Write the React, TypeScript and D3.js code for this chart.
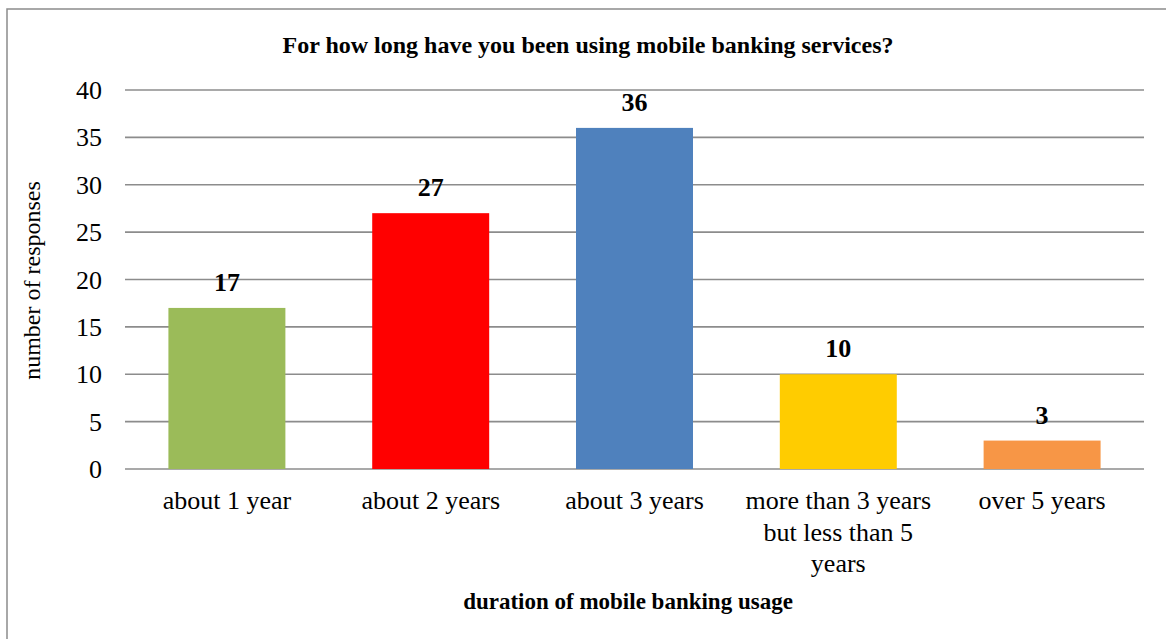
import React from "react";
import * as d3 from "d3";

const categories: string[][] = [
  ["about 1 year"],
  ["about 2 years"],
  ["about 3 years"],
  ["more than 3 years", "but less than 5", "years"],
  ["over 5 years"],
];
const values: number[] = [17, 27, 36, 10, 3];
const colors: string[] = ["#9BBB59", "#FF0000", "#4F81BD", "#FFCC00", "#F79646"];
const yTicks: number[] = [0, 5, 10, 15, 20, 25, 30, 35, 40];
const title = "For how long have you been using mobile banking services?";
const xTitle = "duration of mobile banking usage";
const yTitle = "number of responses";

export default function App() {
  const W = 1166;
  const H = 639;
  const left = 125;
  const right = 1144;
  const top = 90;
  const bottom = 469;
  const font = "'Liberation Serif', 'Times New Roman', serif";

  const x = d3
    .scaleBand<number>()
    .domain(values.map((_, i) => i))
    .range([left, right])
    .paddingInner(0.426)
    .paddingOuter(0.213);
  const y = d3.scaleLinear().domain([0, 40]).range([bottom, top]);

  return (
    <svg
      width={W}
      height={H}
      style={{ position: "absolute", left: 0, top: 0, display: "block" }}
    >
      <rect x={0} y={0} width={W} height={H} fill="#fff" />
      <rect
        x={7}
        y={9}
        width={W + 20}
        height={H + 20}
        fill="none"
        stroke="#8c8c8c"
        strokeWidth={1.5}
      />
      <text
        x={588}
        y={53}
        textAnchor="middle"
        fontFamily={font}
        fontWeight="bold"
        fontSize={24}
        fill="#000"
      >
        {title}
      </text>
      {yTicks.map((t) => (
        <g key={t}>
          <line
            x1={left}
            x2={right}
            y1={y(t)}
            y2={y(t)}
            stroke="#8c8c8c"
            strokeWidth={1.6}
          />
          <text
            x={102}
            y={y(t)}
            dy="0.35em"
            textAnchor="end"
            fontFamily={font}
            fontSize={26}
            fill="#000"
          >
            {t}
          </text>
        </g>
      ))}
      {values.map((v, i) => (
        <g key={i}>
          <rect
            x={x(i)!}
            y={y(v)}
            width={x.bandwidth()}
            height={y(0) - y(v)}
            fill={colors[i]}
          />
          <text
            x={x(i)! + x.bandwidth() / 2}
            y={y(v) - 17}
            textAnchor="middle"
            fontFamily={font}
            fontWeight="bold"
            fontSize={26}
            fill="#000"
          >
            {v}
          </text>
          {categories[i].map((line, j) => (
            <text
              key={j}
              x={x(i)! + x.bandwidth() / 2}
              y={509 + j * 31.5}
              textAnchor="middle"
              fontFamily={font}
              fontSize={26}
              fill="#000"
            >
              {line}
            </text>
          ))}
        </g>
      ))}
      <text
        x={628}
        y={609}
        textAnchor="middle"
        fontFamily={font}
        fontWeight="bold"
        fontSize={23}
        fill="#000"
      >
        {xTitle}
      </text>
      <text
        transform={`translate(40, ${(top + bottom) / 2 + 1}) rotate(-90)`}
        textAnchor="middle"
        fontFamily={font}
        fontSize={24}
        fill="#000"
      >
        {yTitle}
      </text>
    </svg>
  );
}
